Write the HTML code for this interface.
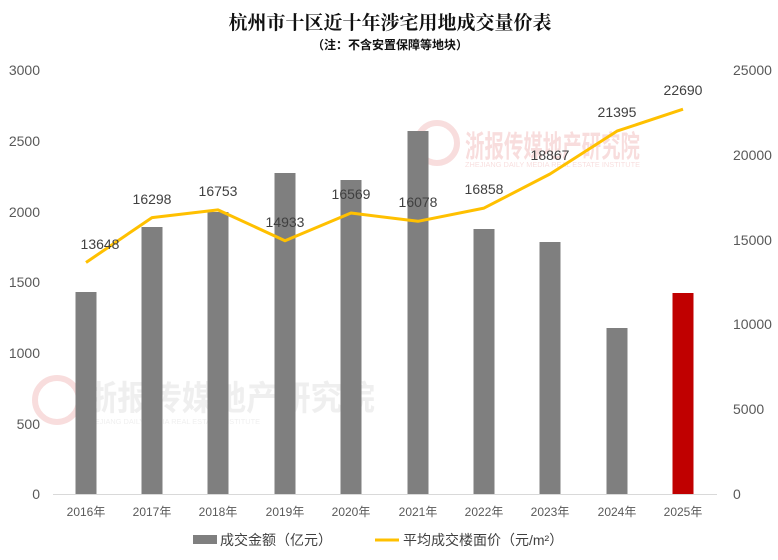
<!DOCTYPE html>
<html><head><meta charset="utf-8"><style>
html,body{margin:0;padding:0;background:#fff;}
svg{display:block;}
</style></head><body>
<svg width="778" height="560" viewBox="0 0 778 560" xmlns="http://www.w3.org/2000/svg" font-family="'Liberation Sans','Noto Sans CJK SC',sans-serif">
<rect width="778" height="560" fill="#fff"/>
<text x="390" y="29" text-anchor="middle" font-family="'Liberation Serif','Noto Serif CJK SC',serif" font-weight="bold" font-size="19" fill="#111">杭州市十区近十年涉宅用地成交量价表</text>
<text x="390" y="49" text-anchor="middle" font-weight="bold" font-size="12" fill="#111">（注：不含安置保障等地块）</text>
<!-- watermarks -->
<g opacity="0.13">
<circle cx="437" cy="143" r="20" fill="none" stroke="#c00" stroke-width="6"/>
<text x="465" y="157" font-size="30" font-weight="bold" fill="#c00" textLength="175" lengthAdjust="spacingAndGlyphs">浙报传媒地产研究院</text>
<text x="465" y="167" font-size="7" fill="#c00" textLength="175" lengthAdjust="spacingAndGlyphs">ZHEJIANG DAILY MEDIA REAL ESTATE INSTITUTE</text>
<circle cx="57" cy="400" r="22" fill="none" stroke="#c00" stroke-width="6"/>
<text x="85" y="410" font-size="34" font-weight="bold" fill="#888" textLength="290" lengthAdjust="spacingAndGlyphs">浙报传媒地产研究院</text>
<text x="85" y="424" font-size="7" fill="#888" textLength="175" lengthAdjust="spacingAndGlyphs">ZHEJIANG DAILY MEDIA REAL ESTATE INSTITUTE</text>
</g>
<g font-size="14" fill="#595959">
<text x="40" y="75" text-anchor="end">3000</text>
<text x="40" y="146" text-anchor="end">2500</text>
<text x="40" y="217" text-anchor="end">2000</text>
<text x="40" y="287" text-anchor="end">1500</text>
<text x="40" y="358" text-anchor="end">1000</text>
<text x="40" y="429" text-anchor="end">500</text>
<text x="40" y="499" text-anchor="end">0</text>
<text x="733" y="75">25000</text>
<text x="733" y="160">20000</text>
<text x="733" y="245">15000</text>
<text x="733" y="329">10000</text>
<text x="733" y="414">5000</text>
<text x="733" y="499">0</text>
</g>
<line x1="53" y1="494.5" x2="717" y2="494.5" stroke="#d9d9d9" stroke-width="1"/>
<g fill="#7f7f7f">
<rect x="75.5" y="292" width="21" height="202"/>
<rect x="141.5" y="227" width="21" height="267"/>
<rect x="207.5" y="212" width="21" height="282"/>
<rect x="274.5" y="173" width="21" height="321"/>
<rect x="340.5" y="180" width="21" height="314"/>
<rect x="407.5" y="131" width="21" height="363"/>
<rect x="473.5" y="229" width="21" height="265"/>
<rect x="539.5" y="242" width="21" height="252"/>
<rect x="606.5" y="328" width="21" height="166"/>
</g>
<rect x="672.5" y="293" width="21" height="201" fill="#c00000"/>
<polyline fill="none" stroke="#ffc000" stroke-width="3" stroke-linejoin="round" points="86,262.5 152,217.6 218,209.9 285,240.7 351,213 418,221.3 484,208.1 550,174 617,131.1 683,109.2"/>
<g font-size="14" fill="#404040" text-anchor="middle">
<text x="100" y="249">13648</text>
<text x="152" y="204">16298</text>
<text x="218" y="196">16753</text>
<text x="285" y="227">14933</text>
<text x="351" y="199">16569</text>
<text x="418" y="207">16078</text>
<text x="484" y="194">16858</text>
<text x="550" y="160">18867</text>
<text x="617" y="117">21395</text>
<text x="683" y="95">22690</text>
</g>
<g font-size="12" fill="#595959" text-anchor="middle">
<text x="86" y="516">2016年</text>
<text x="152" y="516">2017年</text>
<text x="218" y="516">2018年</text>
<text x="285" y="516">2019年</text>
<text x="351" y="516">2020年</text>
<text x="418" y="516">2021年</text>
<text x="484" y="516">2022年</text>
<text x="550" y="516">2023年</text>
<text x="617" y="516">2024年</text>
<text x="683" y="516">2025年</text>
</g>
<rect x="193" y="535" width="24" height="9" fill="#7f7f7f"/>
<text x="220" y="545" font-size="14" fill="#404040">成交金额（亿元）</text>
<line x1="375" y1="540" x2="399" y2="540" stroke="#ffc000" stroke-width="3"/>
<text x="403" y="545" font-size="14" fill="#404040">平均成交楼面价（元/m²）</text>
</svg>
</body></html>
